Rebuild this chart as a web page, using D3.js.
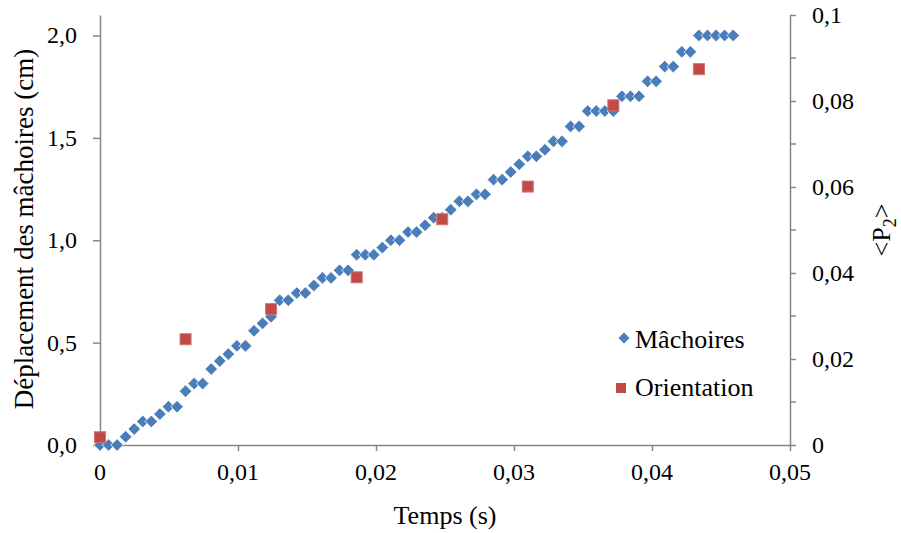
<!DOCTYPE html>
<html>
<head>
<meta charset="utf-8">
<script src="https://cdn.jsdelivr.net/npm/d3@7"></script>
<style>
  html, body { margin: 0; padding: 0; background: #fff; font-family: "Liberation Serif", "Times New Roman", serif; }
  svg { display: block; font-family: "Liberation Serif", "Times New Roman", serif; }
</style>
</head>
<body>
<svg id="chart" width="901" height="533" font-family="Liberation Serif, Times New Roman, serif"></svg>
<script>
// ---- data ----
const temps = [
  0, 0.00062, 0.00124, 0.00186, 0.00248, 0.0031, 0.00372, 0.00434, 0.00496, 0.00558,
  0.0062, 0.00682, 0.00744, 0.00806, 0.00868, 0.0093, 0.00992, 0.01054, 0.01116, 0.01178,
  0.0124, 0.01302, 0.01364, 0.01426, 0.01488, 0.0155, 0.01612, 0.01674, 0.01736, 0.01798,
  0.0186, 0.01922, 0.01984, 0.02046, 0.02108, 0.0217, 0.02232, 0.02294, 0.02356, 0.02418,
  0.0248, 0.02542, 0.02604, 0.02666, 0.02728, 0.0279, 0.02852, 0.02914, 0.02976, 0.03038,
  0.031, 0.03162, 0.03224, 0.03286, 0.03348, 0.0341, 0.03472, 0.03534, 0.03596, 0.03658,
  0.0372, 0.03782, 0.03844, 0.03906, 0.03968, 0.0403, 0.04092, 0.04154, 0.04216, 0.04278,
  0.0434, 0.04402, 0.04464, 0.04526, 0.04588
];
const machoires = [
  0, 0, 0, 0.04, 0.078, 0.115, 0.115, 0.151, 0.187, 0.187,
  0.263, 0.30, 0.30, 0.371, 0.41, 0.444, 0.484, 0.484, 0.558, 0.594,
  0.626, 0.707, 0.707, 0.742, 0.742, 0.779, 0.816, 0.816, 0.853, 0.853,
  0.929, 0.929, 0.929, 0.964, 1.0, 1.0, 1.04, 1.04, 1.073, 1.11,
  1.11, 1.149, 1.19, 1.19, 1.224, 1.224, 1.296, 1.296, 1.333, 1.371,
  1.41, 1.41, 1.442, 1.483, 1.483, 1.556, 1.556, 1.631, 1.631, 1.631,
  1.631, 1.703, 1.703, 1.703, 1.776, 1.776, 1.848, 1.848, 1.92, 1.92,
  2.0, 2.0, 2.0, 2.0, 2.0
];
const tempsOrientation = [0, 0.0062, 0.0124, 0.0186, 0.0248, 0.031, 0.0372, 0.0434];
const orientation = [0.0018, 0.0246, 0.0316, 0.039, 0.0525, 0.0601, 0.079, 0.0874];

const xTicks = [0, 0.01, 0.02, 0.03, 0.04, 0.05];
const yLeftTicks = [0, 0.5, 1.0, 1.5, 2.0];
const yRightTicks = [0, 0.02, 0.04, 0.06, 0.08, 0.1];
const yRightMinor = [0.01, 0.03, 0.05, 0.07, 0.09];

const xTickLabels = ["0", "0,01", "0,02", "0,03", "0,04", "0,05"];
const yLeftTickLabels = ["0,0", "0,5", "1,0", "1,5", "2,0"];
const yRightTickLabels = ["0", "0,02", "0,04", "0,06", "0,08", "0,1"];

const labels = {
  x: "Temps (s)",
  yLeft: "Déplacement des mâchoires (cm)",
  series1: "Mâchoires",
  series2: "Orientation"
};

// ---- layout ----
const svg = d3.select("#chart");
const L = 100, R = 790, T = 15, B = 445;
const axisColor = "#868686";
const blue = "#4A7EBB", red = "#BE4B48";

const x = d3.scaleLinear().domain([0, 0.05]).range([L, R]);
const yL = d3.scaleLinear().domain([0, 2.1]).range([B, T]);
const yR = d3.scaleLinear().domain([0, 0.1]).range([B, T]);

// axes (lines and ticks only, labels drawn as plain text below)
function styleAxis(g) {
  g.attr("font-family", null).attr("font-size", null);
  g.selectAll(".domain").attr("stroke", axisColor).attr("stroke-width", 1.5);
  g.selectAll(".tick line").attr("stroke", axisColor).attr("stroke-width", 1.5);
  g.selectAll(".tick text").remove();
}
const gx = svg.append("g").attr("transform", `translate(0,${B})`)
  .call(d3.axisBottom(x).tickValues(xTicks).tickSize(6).tickSizeOuter(0));
styleAxis(gx);
const gyl = svg.append("g").attr("transform", `translate(${L},0)`)
  .call(d3.axisLeft(yL).tickValues(yLeftTicks).tickSize(7).tickSizeOuter(0));
styleAxis(gyl);
const gyr = svg.append("g").attr("transform", `translate(${R},0)`)
  .call(d3.axisRight(yR).tickValues(yRightTicks).tickSize(6).tickSizeOuter(0));
styleAxis(gyr);
gyr.selectAll(".minor").data(yRightMinor).enter().append("line")
  .attr("x1", 0).attr("x2", 6)
  .attr("y1", d => yR(d)).attr("y2", d => yR(d))
  .attr("stroke", axisColor).attr("stroke-width", 1.5);

// tick labels
svg.selectAll(".xtl").data(xTicks).enter().append("text")
  .attr("x", d => x(d)).attr("y", 480).attr("text-anchor", "middle")
  .attr("font-size", 24).text((d, i) => xTickLabels[i]);
svg.selectAll(".yltl").data(yLeftTicks).enter().append("text")
  .attr("x", 77).attr("y", d => yL(d) + 8).attr("text-anchor", "end")
  .attr("font-size", 24).text((d, i) => yLeftTickLabels[i]);
svg.selectAll(".yrtl").data(yRightTicks).enter().append("text")
  .attr("x", 812).attr("y", d => yR(d) + 8).attr("text-anchor", "start")
  .attr("font-size", 24).text((d, i) => yRightTickLabels[i]);

// axis titles
svg.append("text").attr("x", (L + R) / 2).attr("y", 524)
  .attr("text-anchor", "middle").attr("font-size", 26).text(labels.x);
svg.append("text").attr("transform", `translate(33,229) rotate(-90)`)
  .attr("text-anchor", "middle").attr("font-size", 27).text(labels.yLeft);
const rt = svg.append("text").attr("transform", `translate(890,230) rotate(-90)`)
  .attr("text-anchor", "middle").attr("font-size", 26);
rt.append("tspan").text("<P");
rt.append("tspan").attr("dy", 6).attr("font-size", 18).text("2");
rt.append("tspan").attr("dy", -6).text(">");

// legend texts
svg.append("text").attr("x", 635).attr("y", 348).attr("font-size", 26).text(labels.series1);
svg.append("text").attr("x", 635).attr("y", 396).attr("font-size", 26).text(labels.series2);

// markers
const diamond = r => `M0,${-r}L${r},0L0,${r}L${-r},0Z`;
const dR = 6.3, sq = 11;

svg.append("g").selectAll("path").data(temps).enter().append("path")
  .attr("d", diamond(dR))
  .attr("transform", (d, i) => `translate(${x(d)},${yL(machoires[i])})`)
  .attr("fill", blue).attr("stroke", "#fff").attr("stroke-width", 0.8);

svg.append("g").selectAll("rect").data(tempsOrientation).enter().append("rect")
  .attr("x", d => x(d) - sq / 2)
  .attr("y", (d, i) => yR(orientation[i]) - sq / 2)
  .attr("width", sq).attr("height", sq)
  .attr("fill", red).attr("stroke", "#D27370").attr("stroke-width", 1);

// legend symbols
svg.append("path").attr("d", diamond(5.5)).attr("transform", "translate(624,338)")
  .attr("fill", blue);
svg.append("rect").attr("x", 616).attr("y", 383).attr("width", 10).attr("height", 10)
  .attr("fill", red);

svg.selectAll("text").attr("fill", "#000").attr("font-family", "Liberation Serif, Times New Roman, serif");
</script>
</body>
</html>
